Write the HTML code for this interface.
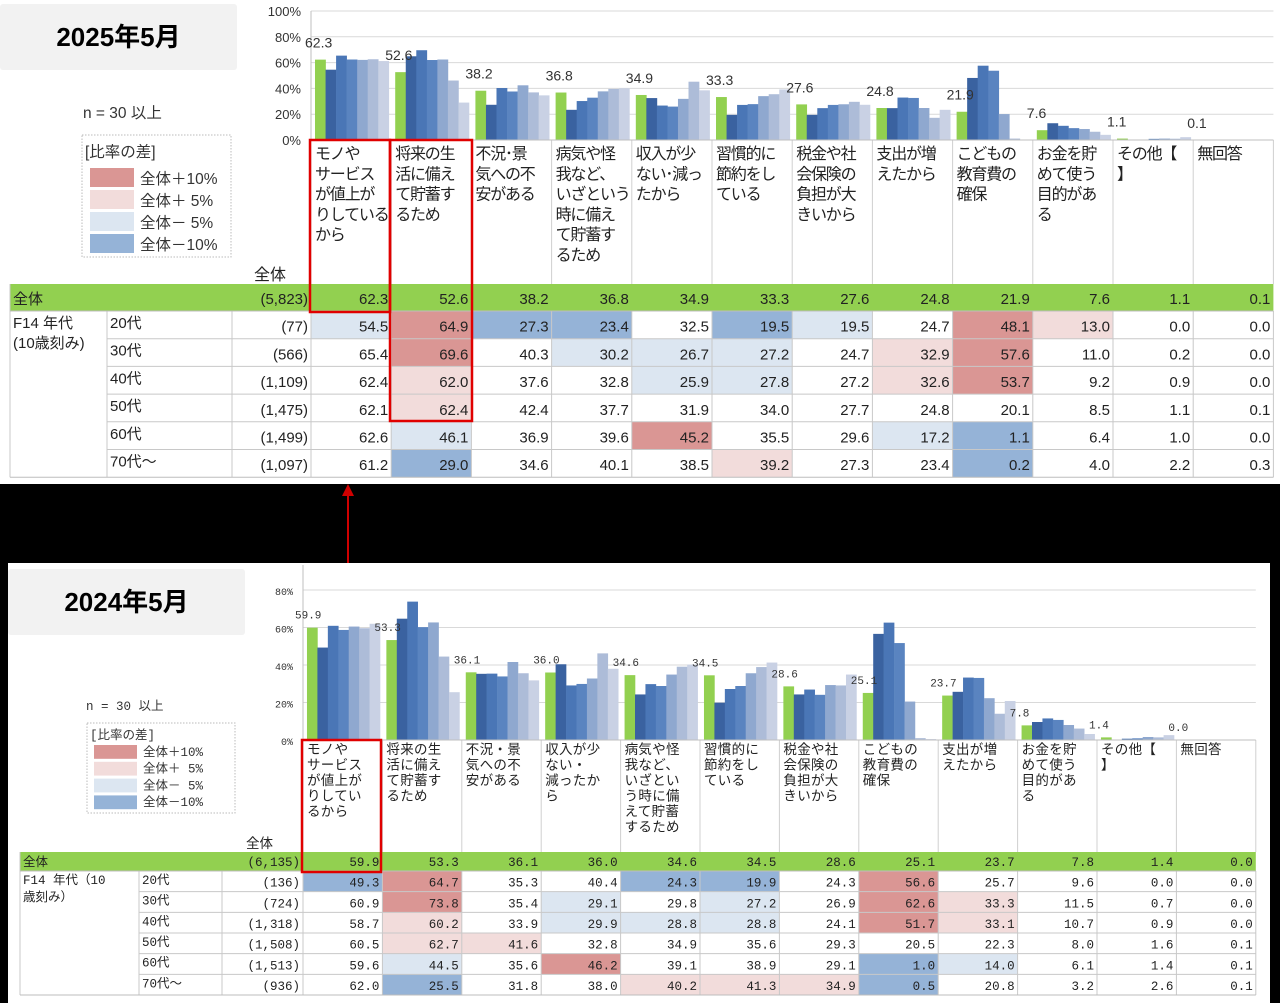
<!DOCTYPE html>
<html lang="ja">
<head>
<meta charset="utf-8">
<style>
html,body{margin:0;padding:0;background:#000;}
body{width:1280px;height:1003px;overflow:hidden;position:relative;font-family:"Liberation Sans","Noto Sans CJK JP",sans-serif;}
svg{position:absolute;left:0;top:0;}
</style>
</head>
<body>
<svg id="page" width="1280" height="1003" viewBox="0 0 1280 1003"></svg>
<script>
// ===== 2025 data =====
const cats25 = [
  ["モノや","サービス","が値上が","りしている","から"],
  ["将来の生","活に備え","て貯蓄す","るため"],
  ["不況･景","気への不","安がある"],
  ["病気や怪","我など、","いざという","時に備え","て貯蓄す","るため"],
  ["収入が少","ない･減っ","たから"],
  ["習慣的に","節約をし","ている"],
  ["税金や社","会保険の","負担が大","きいから"],
  ["支出が増","えたから"],
  ["こどもの","教育費の","確保"],
  ["お金を貯","めて使う","目的があ","る"],
  ["その他【","】"],
  ["無回答"]
];
const total25 = [62.3,52.6,38.2,36.8,34.9,33.3,27.6,24.8,21.9,7.6,1.1,0.1];
const age20_25 = [54.5,64.9,27.3,23.4,32.5,19.5,19.5,24.7,48.1,13.0,0.0,0.0];
const age30_25 = [65.4,69.6,40.3,30.2,26.7,27.2,24.7,32.9,57.6,11.0,0.2,0.0];
const age40_25 = [62.4,62.0,37.6,32.8,25.9,27.8,27.2,32.6,53.7,9.2,0.9,0.0];
const age50_25 = [62.1,62.4,42.4,37.7,31.9,34.0,27.7,24.8,20.1,8.5,1.1,0.1];
const age60_25 = [62.6,46.1,36.9,39.6,45.2,35.5,29.6,17.2,1.1,6.4,1.0,0.0];
const age70_25 = [61.2,29.0,34.6,40.1,38.5,39.2,27.3,23.4,0.2,4.0,2.2,0.3];
const n25 = ["(5,823)","(77)","(566)","(1,109)","(1,475)","(1,499)","(1,097)"];
const ticks25 = [0,20,40,60,80,100];

// ===== 2024 data =====
const cats24 = [
  ["モノや","サービス","が値上が","りしてい","るから"],
  ["将来の生","活に備え","て貯蓄す","るため"],
  ["不況・景","気への不","安がある"],
  ["収入が少","ない・","減ったか","ら"],
  ["病気や怪","我など、","いざとい","う時に備","えて貯蓄","するため"],
  ["習慣的に","節約をし","ている"],
  ["税金や社","会保険の","負担が大","きいから"],
  ["こどもの","教育費の","確保"],
  ["支出が増","えたから"],
  ["お金を貯","めて使う","目的があ","る"],
  ["その他【","】"],
  ["無回答"]
];
const total24 = [59.9,53.3,36.1,36.0,34.6,34.5,28.6,25.1,23.7,7.8,1.4,0.0];
const age20_24 = [49.3,64.7,35.3,40.4,24.3,19.9,24.3,56.6,25.7,9.6,0.0,0.0];
const age30_24 = [60.9,73.8,35.4,29.1,29.8,27.2,26.9,62.6,33.3,11.5,0.7,0.0];
const age40_24 = [58.7,60.2,33.9,29.9,28.8,28.8,24.1,51.7,33.1,10.7,0.9,0.0];
const age50_24 = [60.5,62.7,41.6,32.8,34.9,35.6,29.3,20.5,22.3,8.0,1.6,0.1];
const age60_24 = [59.6,44.5,35.6,46.2,39.1,38.9,29.1,1.0,14.0,6.1,1.4,0.1];
const age70_24 = [62.0,25.5,31.8,38.0,40.2,41.3,34.9,0.5,20.8,3.2,2.6,0.1];
const n24 = ["(6,135)","(136)","(724)","(1,318)","(1,508)","(1,513)","(936)"];
const ticks24 = [0,20,40,60,80];

const ageLabels = ["20代","30代","40代","50代","60代","70代～"];
const legendLabels = ["全体＋10%","全体＋ 5%","全体－ 5%","全体－10%"];

const NS = "http://www.w3.org/2000/svg";
const svg = document.getElementById("page");
function mk(tag, attrs, parent, txt){
  const e = document.createElementNS(NS, tag);
  for (const k in attrs) e.setAttribute(k, attrs[k]);
  if (txt !== undefined) e.textContent = txt;
  (parent || svg).appendChild(e);
  return e;
}
const BAR_COLORS = ["#92d050","#3a62a0","#4a76b6","#5a84c0","#8fa8cf","#adbcd8","#c9d1e4"];
const CELL = {r2:"#da9694", r1:"#f2dcdb", b1:"#dce6f1", b2:"#95b3d7"};
function cellFill(v, base){
  const d = v - base;
  if (d >= 10) return CELL.r2;
  if (d >= 5) return CELL.r1;
  if (d <= -10) return CELL.b2;
  if (d <= -5) return CELL.b1;
  return "#ffffff";
}

function drawPanel(cfg, cats, total, ages, ns, ticks){
  const g = mk("g", {});
  
  
  const yS = v => cfg.y0 - v * cfg.scale;
  const xC = i => cfg.x0 + i * cfg.colW;
  const nCat = total.length;
  const right = xC(nCat);
  ticks.forEach(t => {
    if (t > 0) {
      const gl = mk("line", {x1:cfg.x0, x2:right, y1:yS(t), y2:yS(t), stroke:"#d9d9d9", "stroke-width":1}, g);
      
      
    }
    const tl = mk("text", {x:cfg.x0 - 10, y:yS(t) + 5, "text-anchor":"end", "font-size":cfg.tickFs, fill:"#333", "font-family":cfg.numFont}, g, t + "%");
    
    
  });
  const ax = mk("line", {x1:cfg.x0, x2:cfg.x0, y1:cfg.axisTop, y2:cfg.y0, stroke:"#bfbfbf"}, g);
  
  
  const series = [total].concat(ages);
  const bw = cfg.colW * 0.92 / 7;
  for (let i = 0; i < nCat; i++) {
    series.forEach((s, k) => {
      const v = s[i];
      const b = mk("rect", {x:xC(i) + cfg.colW*0.05 + k*bw, y:yS(v), width:bw+0.3, height:v*cfg.scale, fill:BAR_COLORS[k]}, g);
      
      
    });
    const lb = mk("text", {x:xC(i) - cfg.lblDx, y:yS(total[i]) - cfg.lblDy, "font-size":cfg.lblFs, fill:"#333", "font-family":cfg.numFont}, g, total[i].toFixed(1));
    
    
  }
  const tTop = cfg.y0, rTotal = cfg.rowTotal, rh = cfg.rowH;
  for (let i = 0; i <= nCat; i++) {
    const l = mk("line", {x1:xC(i), x2:xC(i), y1:tTop, y2:rTotal, stroke:"#d0d0d0"}, g);
    
    
  }
  const hl = mk("line", {x1:cfg.x0, x2:right, y1:tTop, y2:tTop, stroke:"#bfbfbf"}, g);
  
  
  cats.forEach((lines, i) => {
    const t = mk("text", {x:xC(i)+4, y:tTop + cfg.hdrFirst, "font-size":cfg.hdrFs, fill:"#222", "font-family":'"Liberation Sans","Noto Sans CJK JP",sans-serif', "letter-spacing":cfg.hdrLs}, g);
    
    
    lines.forEach((ln, j) => {
      mk("tspan", {x:xC(i)+4, dy: j === 0 ? 0 : cfg.hdrLh}, t, ln);
    });
  });
  const cap = mk("text", {x:cfg.capX, y:rTotal - 4, "font-size":cfg.hdrFs, fill:"#222"}, g, "全体");
  
  
  const tr = mk("rect", {x:cfg.tLeft, y:rTotal, width:right - cfg.tLeft, height:cfg.rowH0, fill:"#92d050"}, g);
  
  
  const tlb = mk("text", {x:cfg.tLeft+3, y:rTotal + cfg.rowH0 - cfg.txtPadB, "font-size":cfg.cellFs, fill:"#222", "font-family":cfg.lblFamily}, g, "全体");
  
  
  const tn = mk("text", {x:cfg.x0-3, y:rTotal + cfg.rowH0 - cfg.txtPadB, "text-anchor":"end", "font-size":cfg.cellFs, fill:"#222", "font-family":cfg.numFont}, g, ns[0]);
  
  
  total.forEach((v, i) => {
    const c = mk("text", {x:xC(i+1)-3, y:rTotal + cfg.rowH0 - cfg.txtPadB, "text-anchor":"end", "font-size":cfg.cellFs, fill:"#222", "font-family":cfg.numFont}, g, v.toFixed(1));
    
    
  });
  const r0 = rTotal + cfg.rowH0;
  ages.forEach((row, r) => {
    const y = r0 + r*rh;
    row.forEach((v, i) => {
      const cr = mk("rect", {x:xC(i), y:y, width:cfg.colW, height:rh, fill:cellFill(v, total[i])}, g);
      
      
      const ct = mk("text", {x:xC(i+1)-3, y:y + rh - cfg.txtPadB, "text-anchor":"end", "font-size":cfg.cellFs, fill:"#222", "font-family":cfg.numFont}, g, v.toFixed(1));
      
      
    });
    const al = mk("text", {x:cfg.ageX+3, y:y + cfg.ageDy, "font-size":cfg.cellFs, fill:"#222", "font-family":cfg.lblFamily}, g, ageLabels[r]);
    
    
    const nl = mk("text", {x:cfg.x0-3, y:y + rh - cfg.txtPadB, "text-anchor":"end", "font-size":cfg.cellFs, fill:"#222", "font-family":cfg.numFont}, g, ns[r+1]);
    
    
    const hr = mk("line", {x1:cfg.ageX, x2:right, y1:y, y2:y, stroke:"#c8c8c8"}, g);
    
    
  });
  const yEnd = r0 + 6*rh;
  [cfg.tLeft, cfg.ageX, cfg.nX].forEach(x => {
    const l = mk("line", {x1:x, x2:x, y1: x===cfg.tLeft ? rTotal : r0, y2:yEnd, stroke:"#c8c8c8"}, g);
    
    
  });
  for (let i = 0; i <= nCat; i++) {
    const l = mk("line", {x1:xC(i), x2:xC(i), y1:r0, y2:yEnd, stroke:"#c8c8c8"}, g);
    
    
  }
  [r0, yEnd].forEach(y => {
    const l = mk("line", {x1:cfg.tLeft, x2:right, y1:y, y2:y, stroke:"#bdbdbd"}, g);
    
    
  });
  cfg.f14.forEach((ln, j) => {
    const f = mk("text", {x:cfg.tLeft+3, y:r0 + cfg.ageDy + j*cfg.f14Lh, "font-size":cfg.cellFs, fill:"#222", "font-family":cfg.lblFamily}, g, ln);
    
    
  });
  const L = cfg.leg;
  const nt = mk("text", {x:L.nx, y:L.ny, "font-size":L.fs, fill:"#333", "font-family":cfg.lblFamily}, g, "n = 30 以上");
  
  
  const lb = mk("rect", {x:L.x, y:L.y, width:L.w, height:L.h, fill:"#fff", stroke:"#bbb", "stroke-dasharray":"1.5 1.5"}, g);
  
  
  const lt = mk("text", {x:L.x+3, y:L.y+L.titleDy, "font-size":L.fs, fill:"#333", "font-family":cfg.lblFamily}, g, "[比率の差]");
  
  
  [CELL.r2, CELL.r1, CELL.b1, CELL.b2].forEach((c, k) => {
    const sw = mk("rect", {x:L.sx, y:L.sy + k*L.sh, width:L.sw, height:L.sh-3, fill:c}, g);
    
    
    const st = mk("text", {x:L.sx + L.sw + 6, y:L.sy + k*L.sh + L.sh - 6, "font-size":L.fs, fill:"#333", "font-family":cfg.lblFamily}, g, legendLabels[k]);
    
    
  });
  cfg.boxes.forEach(b => {
    const r = mk("rect", {x:b[0], y:b[1], width:b[2], height:b[3], fill:"none", stroke:"#e00000", "stroke-width":2.5}, g);
    
    
  });
  const tb = mk("rect", {x:cfg.title[0], y:cfg.title[1], width:cfg.title[2], height:cfg.title[3], fill:"#f2f2f2", rx:3}, g);
  
  
  const tt = mk("text", {x:cfg.title[0]+cfg.title[2]/2, y:cfg.title[1]+cfg.title[3]/2+9, "text-anchor":"middle", "font-size":26, "font-weight":"bold", fill:"#000", "font-family":'"Liberation Sans","Noto Sans CJK JP",sans-serif'}, g, cfg.titleText);
  
  
}

const bg1 = mk("rect", {x:0, y:0, width:1280, height:484, fill:"#fff"});


const bg2 = mk("rect", {x:8, y:563, width:1262, height:440, fill:"#fff"});



drawPanel({
  name:"panel-2025", x0:311, colW:80.2, y0:140, scale:1.29, axisTop:11,
  tickFs:13, numFont:'"Liberation Sans",sans-serif', lblFs:14, lblDx:6, lblDy:12,
  rowTotal:284, rowH0:27, rowH:27.7, hdrFirst:19, hdrFs:16, hdrLh:20.3, hdrLs:-1.2,
  capX:254, tLeft:10, ageX:107, nX:232, cellFs:15, txtPadB:7, ageDy:17,
  lblFamily:'"Liberation Sans","Noto Sans CJK JP",sans-serif',
  f14:["F14 年代","(10歳刻み)"], f14Lh:20,
  leg:{nx:83, ny:118, fs:15.5, x:82, y:135, w:149, h:122, titleDy:22, sx:90, sy:168, sw:44, sh:22},
  boxes:[[310,140,80,172],[390,140,82,281]],
  title:[0,4,237,66], titleText:"2025年5月"
}, cats25, total25, [age20_25,age30_25,age40_25,age50_25,age60_25,age70_25], n25, ticks25);

drawPanel({
  name:"panel-2024", x0:303, colW:79.4, y0:740, scale:1.875, axisTop:565,
  tickFs:10, numFont:'"Liberation Mono",monospace', lblFs:11, lblDx:8, lblDy:9,
  rowTotal:852, rowH0:19, rowH:20.67, hdrFirst:14, hdrFs:13.5, hdrLh:15.5, hdrLs:0.3,
  capX:246, tLeft:20, ageX:139, nX:222, cellFs:12.5, txtPadB:5, ageDy:13,
  lblFamily:'"Liberation Mono","Noto Sans CJK JP",monospace',
  f14:["F14 年代（10","歳刻み）"], f14Lh:17,
  leg:{nx:86, ny:710, fs:12.5, x:87, y:723, w:148, h:90, titleDy:16, sx:94, sy:745, sw:43, sh:16.8},
  boxes:[[302,740,79,132]],
  title:[8,569,237,66], titleText:"2024年5月"
}, cats24, total24, [age20_24,age30_24,age40_24,age50_24,age60_24,age70_24], n24, ticks24);

const ar = mk("line", {x1:348, y1:563, x2:348, y2:494, stroke:"#d00000", "stroke-width":2});


const ah = mk("polygon", {points:"348,484 342,496 354,496", fill:"#d00000"});


</script>
</body>
</html>
